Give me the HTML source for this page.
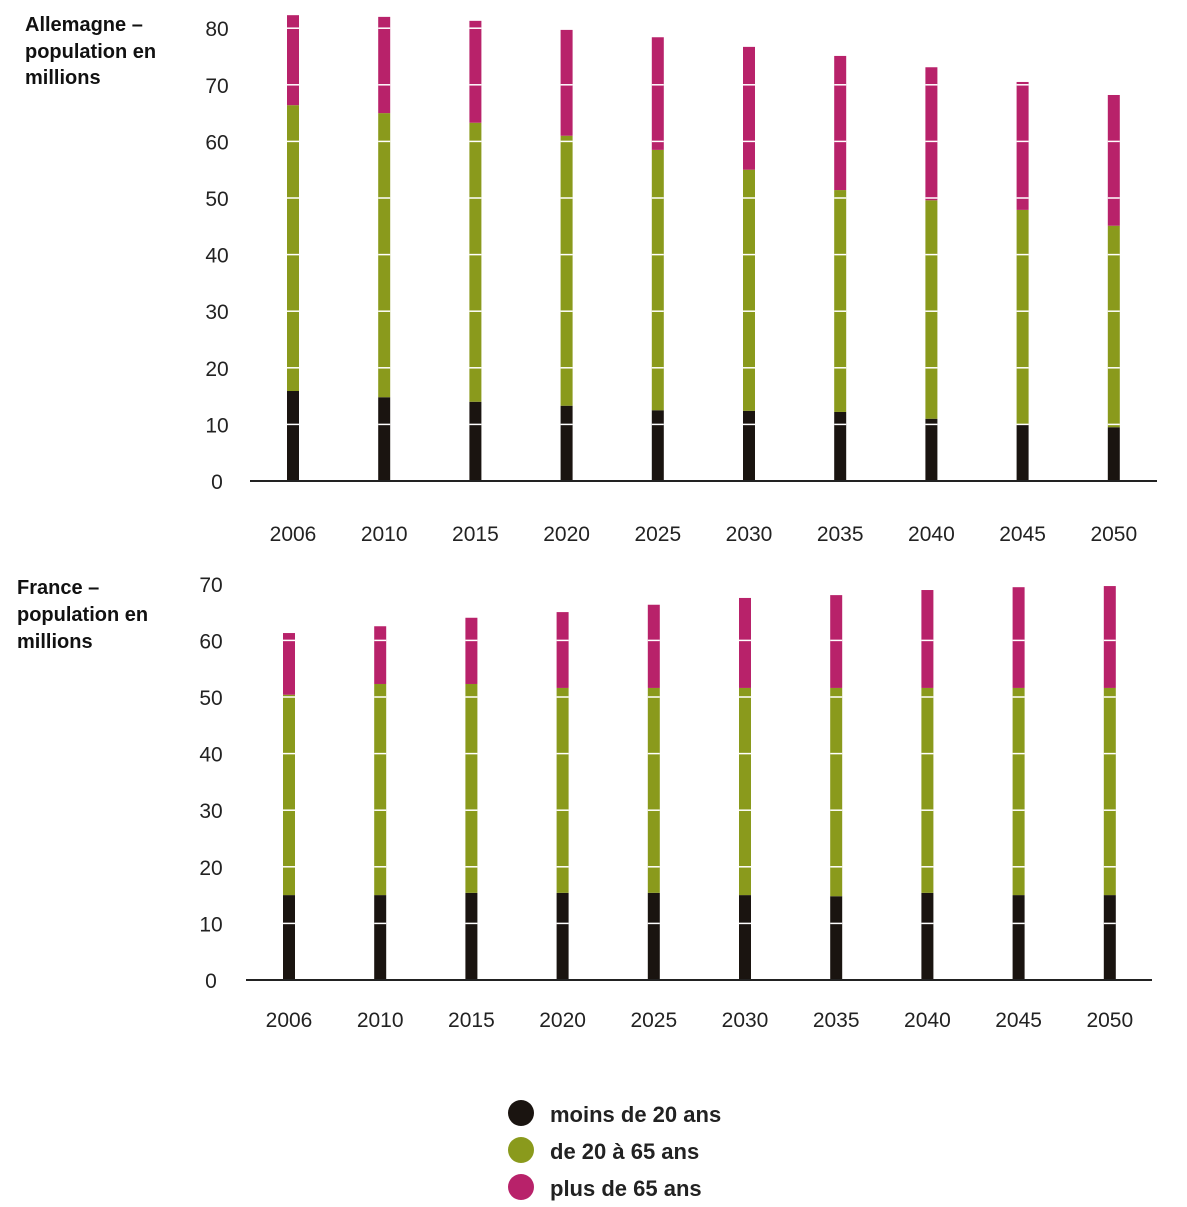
<!DOCTYPE html>
<html><head><meta charset="utf-8"><style>
body{margin:0;background:#fff;}
svg{display:block;font-family:"Liberation Sans",sans-serif;}
.tk{font-size:21px;fill:#222;}
.tt{font-size:20px;font-weight:bold;fill:#111;}
.lg{font-size:22px;font-weight:bold;fill:#222;}
</style></head><body>
<svg id="c" width="1187" height="1207" viewBox="0 0 1187 1207">
<text class="tt" x="25" y="31">Allemagne –</text>
<text class="tt" x="25" y="58">population en</text>
<text class="tt" x="25" y="84">millions</text>
<text class="tt" x="17" y="594">France –</text>
<text class="tt" x="17" y="621">population en</text>
<text class="tt" x="17" y="648">millions</text>
<circle cx="521" cy="1113" r="13" fill="#1a1410"/>
<circle cx="521" cy="1150" r="13" fill="#8a9a1c"/>
<circle cx="521" cy="1187" r="13" fill="#b8226a"/>
<text class="lg" x="550" y="1122">moins de 20 ans</text>
<text class="lg" x="550" y="1159">de 20 à 65 ans</text>
<text class="lg" x="550" y="1196">plus de 65 ans</text>
</svg>
<script>
const years=["2006","2010","2015","2020","2025","2030","2035","2040","2045","2050"];
const deUnder20=[15.9,14.8,14.0,13.3,12.5,12.4,12.2,11.0,9.9,9.5];
const de20to65=[50.5,50.2,49.3,47.7,46.0,42.6,39.2,38.6,38.0,35.6];
const deOver65=[15.9,17.0,18.0,18.7,19.9,21.7,23.7,23.5,22.6,23.1];
const frUnder20=[15.0,15.0,15.4,15.4,15.4,15.0,14.8,15.4,15.0,15.0];
const fr20to65=[35.4,37.3,36.9,36.2,36.2,36.6,36.8,36.2,36.6,36.6];
const frOver65=[10.9,10.2,11.7,13.4,14.7,15.9,16.4,17.3,17.8,18.0];
const deTicks=[0,10,20,30,40,50,60,70,80];
const frTicks=[0,10,20,30,40,50,60,70];
const colors=["#1a1410","#8a9a1c","#b8226a"];
const svg=document.getElementById('c');
const NS="http://www.w3.org/2000/svg";
function mk(t,a){const e=document.createElementNS(NS,t);for(const k in a)e.setAttribute(k,a[k]);svg.appendChild(e);return e;}
function chart(cfg){
  const y=v=>cfg.y0-v*cfg.pxPer;
  const x=i=>cfg.x0+i*cfg.step;
  cfg.ticks.forEach(t=>{
    const e=mk('text',{class:'tk',x:cfg.tickX,y:y(t)+8,'text-anchor':'middle'});
    e.textContent=t;
    
    
  });
  years.forEach((yr,i)=>{
    let base=0;
    cfg.series.forEach((s,k)=>{
      const r=mk('rect',{x:x(i)-6,y:y(base+s[i]),width:12,height:s[i]*cfg.pxPer,fill:colors[k]});
      
      
      base+=s[i];
    });
    cfg.ticks.forEach(t=>{if(t>0&&t<base){const l=mk('line',{x1:x(i)-6,x2:x(i)+6,y1:y(t),y2:y(t),stroke:'#fff','stroke-width':1.5});
      
      }});
    const e=mk('text',{class:'tk',x:x(i),y:cfg.labelY,'text-anchor':'middle'});
    e.textContent=yr;
    
    
  });
  const ax=mk('line',{x1:cfg.ax1,x2:cfg.ax2,y1:cfg.y0,y2:cfg.y0,stroke:'#222','stroke-width':2});
  
  
}
chart({id:'de',y0:481,pxPer:5.66,x0:293,step:91.2,tickX:217,labelY:541,ax1:250,ax2:1157,ticks:deTicks,series:[deUnder20,de20to65,deOver65]});
chart({id:'fr',y0:980,pxPer:5.66,x0:289,step:91.2,tickX:211,labelY:1027,ax1:246,ax2:1152,ticks:frTicks,series:[frUnder20,fr20to65,frOver65]});
</script>
</body></html>
